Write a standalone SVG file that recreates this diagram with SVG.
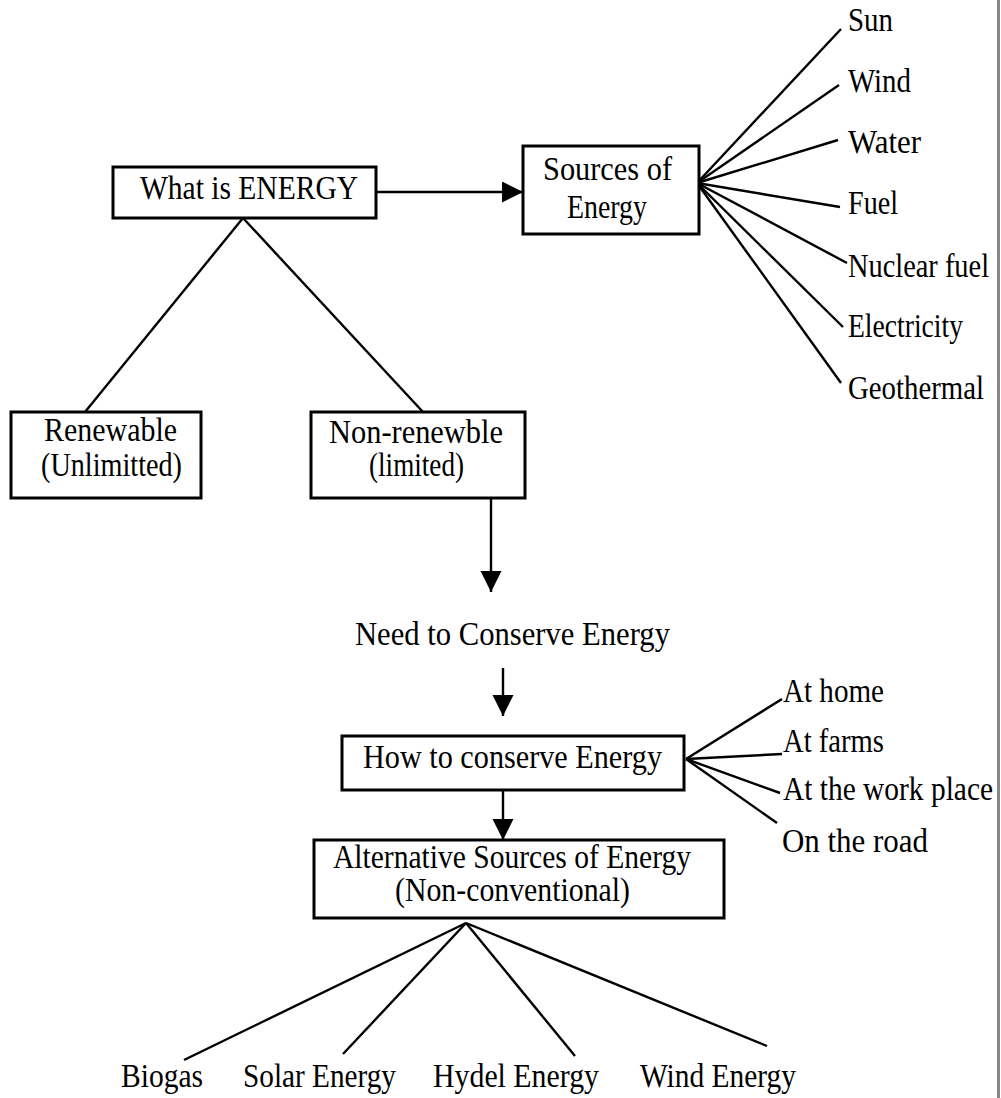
<svg xmlns="http://www.w3.org/2000/svg" width="1001" height="1098" viewBox="0 0 1001 1098">
<defs>
<style>
text{font-family:"Liberation Serif","Times New Roman",serif;font-size:33px;fill:#000}
.box{fill:#fff;stroke:#000;stroke-width:3}
.ln{stroke:#000;stroke-width:2.4;fill:none}
</style>
<marker id="ah" markerUnits="userSpaceOnUse" markerWidth="22" markerHeight="22" refX="21" refY="10.5" orient="auto">
<path d="M0,0 L21,10.5 L0,21 z" fill="#000"/>
</marker>
</defs>
<rect x="0" y="0" width="1001" height="1098" fill="#fff"/>
<line x1="998.5" y1="0" x2="998.5" y2="1098" stroke="#888" stroke-width="3"/>

<g id="connectors">
<line class="ln" x1="376" y1="192" x2="523" y2="192" marker-end="url(#ah)"/>
<line class="ln" x1="243" y1="218" x2="85" y2="412"/>
<line class="ln" x1="243" y1="218" x2="423" y2="412"/>
<line class="ln" x1="491" y1="498" x2="491" y2="592" marker-end="url(#ah)"/>
<line class="ln" x1="503" y1="668" x2="503" y2="716" marker-end="url(#ah)"/>
<line class="ln" x1="503" y1="790" x2="503" y2="840" marker-end="url(#ah)"/>
<circle cx="697" cy="183" r="2.5" fill="#000"/>
<line class="ln" x1="697" y1="183" x2="841" y2="29"/>
<line class="ln" x1="697" y1="183" x2="839" y2="85"/>
<line class="ln" x1="697" y1="183" x2="838" y2="140"/>
<line class="ln" x1="697" y1="183" x2="840" y2="207"/>
<line class="ln" x1="697" y1="183" x2="847" y2="263"/>
<line class="ln" x1="697" y1="183" x2="843" y2="327"/>
<line class="ln" x1="697" y1="183" x2="841" y2="383"/>
<line class="ln" x1="686" y1="759" x2="782" y2="699"/>
<line class="ln" x1="686" y1="759" x2="782" y2="754"/>
<line class="ln" x1="686" y1="759" x2="780" y2="793"/>
<line class="ln" x1="686" y1="759" x2="777" y2="823"/>
<line class="ln" x1="466" y1="923" x2="184" y2="1060"/>
<line class="ln" x1="466" y1="923" x2="343" y2="1054"/>
<line class="ln" x1="466" y1="923" x2="575" y2="1056"/>
<line class="ln" x1="466" y1="923" x2="767" y2="1046"/>
</g>

<g id="what-is-energy">
<rect class="box" x="113" y="167" width="263" height="51"/>
<text x="140" y="199" textLength="218" lengthAdjust="spacingAndGlyphs">What is ENERGY</text>
</g>
<g id="sources-of-energy">
<rect class="box" x="523" y="146" width="176" height="88"/>
<text x="543" y="180" textLength="129" lengthAdjust="spacingAndGlyphs">Sources of</text>
<text x="567" y="218" textLength="80" lengthAdjust="spacingAndGlyphs">Energy</text>
</g>
<g id="sun"><text x="848" y="31" textLength="45" lengthAdjust="spacingAndGlyphs">Sun</text></g>
<g id="wind"><text x="848" y="92" textLength="63" lengthAdjust="spacingAndGlyphs">Wind</text></g>
<g id="water"><text x="848" y="153" textLength="73" lengthAdjust="spacingAndGlyphs">Water</text></g>
<g id="fuel"><text x="848" y="214" textLength="50" lengthAdjust="spacingAndGlyphs">Fuel</text></g>
<g id="nuclear-fuel"><text transform="translate(848,277) scale(0.86,1)" x="0" y="0" textLength="164" lengthAdjust="spacingAndGlyphs">Nuclear fuel</text></g>
<g id="electricity"><text x="848" y="337" textLength="115" lengthAdjust="spacingAndGlyphs">Electricity</text></g>
<g id="geothermal"><text transform="translate(848,399) scale(0.872,1)" x="0" y="0" textLength="156" lengthAdjust="spacingAndGlyphs">Geothermal</text></g>

<g id="renewable">
<rect class="box" x="11" y="412" width="190" height="86"/>
<text x="44" y="441" textLength="133" lengthAdjust="spacingAndGlyphs">Renewable</text>
<text x="41" y="476" textLength="141" lengthAdjust="spacingAndGlyphs">(Unlimitted)</text>
</g>
<g id="non-renewable">
<rect class="box" x="311" y="412" width="214" height="86"/>
<text x="329" y="443" textLength="174" lengthAdjust="spacingAndGlyphs">Non-renewble</text>
<text x="369" y="476" textLength="95" lengthAdjust="spacingAndGlyphs">(limited)</text>
</g>
<g id="need-to-conserve">
<text x="355" y="645" textLength="315" lengthAdjust="spacingAndGlyphs">Need to Conserve Energy</text>
</g>
<g id="how-to-conserve">
<rect class="box" x="342" y="736" width="342" height="54"/>
<text x="363" y="768" textLength="299" lengthAdjust="spacingAndGlyphs">How to conserve Energy</text>
</g>
<g id="at-home"><text x="783" y="702" textLength="101" lengthAdjust="spacingAndGlyphs">At home</text></g>
<g id="at-farms"><text x="783" y="752" textLength="101" lengthAdjust="spacingAndGlyphs">At farms</text></g>
<g id="at-work"><text transform="translate(783,800) scale(0.89,1)" x="0" y="0" textLength="236" lengthAdjust="spacingAndGlyphs">At the work place</text></g>
<g id="on-road"><text x="782" y="852" textLength="146" lengthAdjust="spacingAndGlyphs">On the road</text></g>

<g id="alternative">
<rect class="box" x="314" y="840" width="410" height="78"/>
<text x="333" y="868" textLength="358" lengthAdjust="spacingAndGlyphs">Alternative Sources of Energy</text>
<text x="395" y="901" textLength="235" lengthAdjust="spacingAndGlyphs">(Non-conventional)</text>
</g>
<g id="biogas"><text x="121" y="1087" textLength="82" lengthAdjust="spacingAndGlyphs">Biogas</text></g>
<g id="solar"><text x="243" y="1087" textLength="153" lengthAdjust="spacingAndGlyphs">Solar Energy</text></g>
<g id="hydel"><text x="433" y="1087" textLength="166" lengthAdjust="spacingAndGlyphs">Hydel Energy</text></g>
<g id="wind-energy"><text x="640" y="1087" textLength="156" lengthAdjust="spacingAndGlyphs">Wind Energy</text></g>
</svg>
